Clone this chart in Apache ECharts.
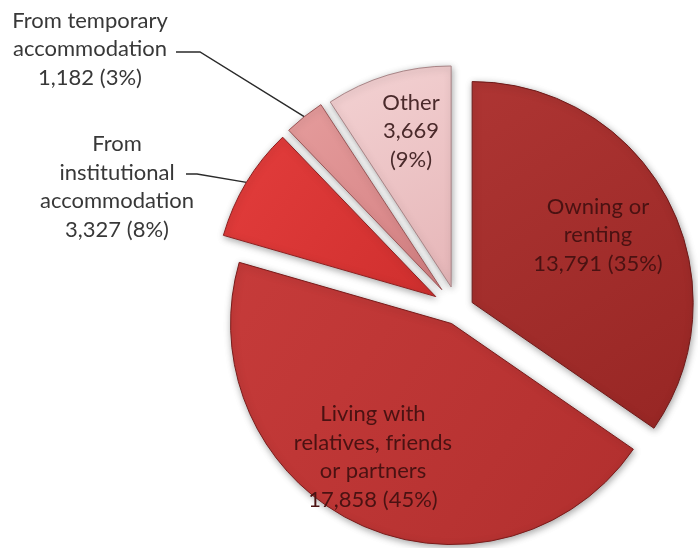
<!DOCTYPE html>
<html>
<head>
<meta charset="utf-8">
<script src="https://cdn.jsdelivr.net/npm/echarts@6/dist/echarts.min.js"></script>
<style>
  html, body { margin: 0; padding: 0; background: #ffffff; }
  #chart { width: 698px; height: 548px; }
</style>
</head>
<body>
<div id="chart"></div>
<script>
// Housing situation categories, counts and label text
const categories = [
  'Owning or renting',
  'Living with relatives, friends or partners',
  'From institutional accommodation',
  'From temporary accommodation',
  'Other'
];
const labelNames = [
  'Owning or\nrenting',
  'Living with\nrelatives, friends\nor partners',
  'From\ninstitutional\naccommodation',
  'From temporary\naccommodation',
  'Other'
];
const values = [13791, 17858, 3327, 1182, 3669];

// Separator between count and percentage in each label
const percentSep = [' ', ' ', ' ', ' ', '\n'];

// Styling per slice: [light, dark, border]
const sliceColors = [
  ['#ae3533', '#972624', '#6e1a19'],
  ['#c63b3a', '#b12f2e', '#7a1c1b'],
  ['#e33d3c', '#cf2f2e', '#8e2020'],
  ['#e59c9c', '#d48082', '#9a5556'],
  ['#f3d2d3', '#e6b6b8', '#a98587']
];
const textColors = ['#4a1212', '#4a1212', '#383838', '#383838', '#4a2a2b'];
const outsideLabel = [false, false, true, true, false];

// Pie geometry: common centre, radius, and how far each slice is pulled out
const pieCenter = [458, 310];
const pieRadius = 221;
const explode = [16, 15, 26, 26, 24];

// Label anchors (centre of each text block) and leader-line bends
const labelAnchor = [[598, 235], [373, 457], [117, 187], [90, 49], [411, 131]];
const leaderBends = [null, null, [[197, 174], [186, 174]], [[200, 52], [176, 52]], null];

const total = values.reduce((a, b) => a + b, 0);
const fmtNum = (n) => n.toLocaleString('en-US');

let acc = 0;
const series = values.map((v, i) => {
  const startDeg = acc / total * 360;
  acc += v;
  const endDeg = acc / total * 360;
  const mid = (startDeg + endDeg) / 2 * Math.PI / 180;
  const cx = pieCenter[0] + explode[i] * Math.sin(mid);
  const cy = pieCenter[1] - explode[i] * Math.cos(mid);
  const edgePoint = [cx + pieRadius * Math.sin(mid), cy - pieRadius * Math.cos(mid)];
  const c = sliceColors[i];

  return {
    type: 'pie',
    silent: true,
    animation: false,
    center: [cx, cy],
    radius: [0, pieRadius],
    startAngle: 90,
    clockwise: true,
    percentPrecision: 0,
    avoidLabelOverlap: false,
    emphasis: { disabled: true },
    label: {
      position: outsideLabel[i] ? 'outside' : 'inside',
      fontFamily: 'Lato',
      fontSize: 22,
      lineHeight: 28.5,
      color: textColors[i],
      align: 'center',
      formatter: (p) => labelNames[p.dataIndex] + '\n' + fmtNum(p.value) +
        percentSep[p.dataIndex] + '(' + p.percent + '%)'
    },
    labelLine: {
      show: outsideLabel[i],
      length: 20,
      length2: 10,
      lineStyle: { color: '#2a2a2a', width: 1.4 }
    },
    labelLayout: (params) => {
      if (params.dataIndex !== i) return {};
      const res = {
        x: labelAnchor[i][0],
        y: labelAnchor[i][1],
        align: 'center',
        verticalAlign: 'middle'
      };
      if (leaderBends[i]) {
        res.labelLinePoints = [edgePoint].concat(leaderBends[i]);
      }
      return res;
    },
    data: values.map((vv, j) => {
      const own = j === i;
      return {
        name: categories[j],
        value: vv,
        label: { show: own },
        labelLine: { show: own && outsideLabel[i] },
        itemStyle: own ? {
          color: {
            type: 'linear', x: 0, y: 0, x2: 1, y2: 1,
            colorStops: [
              { offset: 0, color: c[0] },
              { offset: 1, color: c[1] }
            ]
          },
          borderColor: c[2],
          borderWidth: 1,
          shadowBlur: 7,
          shadowOffsetX: 1,
          shadowOffsetY: 2,
          shadowColor: 'rgba(0,0,0,0.35)'
        } : {
          color: 'rgba(0,0,0,0)',
          borderWidth: 0,
          shadowBlur: 0,
          shadowColor: 'rgba(0,0,0,0)'
        }
      };
    })
  };
});

const chart = echarts.init(document.getElementById('chart'), null, { renderer: 'canvas' });
chart.setOption({
  backgroundColor: '#ffffff',
  series: series
});
</script>
</body>
</html>
